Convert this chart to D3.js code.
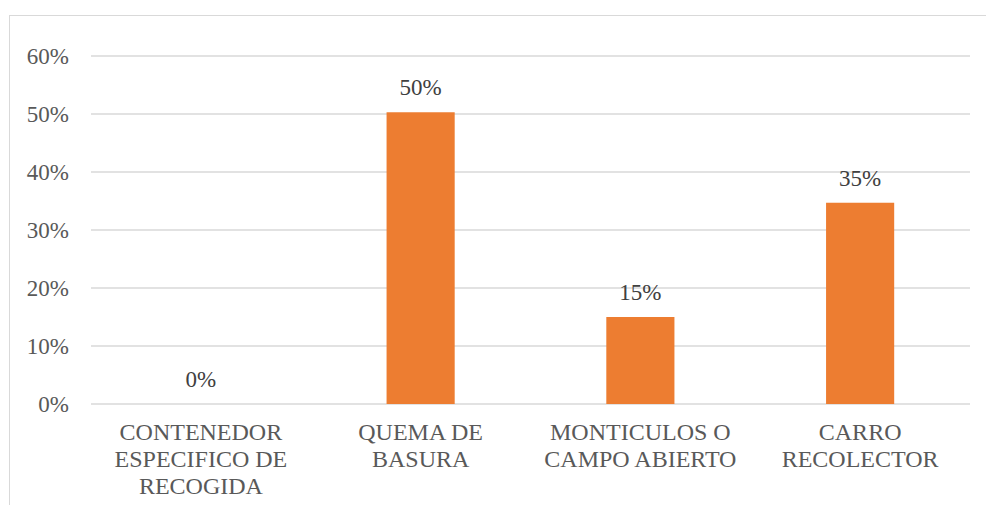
<!DOCTYPE html>
<html>
<head>
<meta charset="utf-8">
<script src="https://cdn.jsdelivr.net/npm/d3@7"></script>
<style>
  html, body { margin: 0; padding: 0; background: #fff; }
  svg { display: block; }
  svg text { font-family: "Liberation Serif", "Times New Roman", serif; }
</style>
</head>
<body>
<div id="chart"></div>
<script>
// chart data
const categories = [
  ["CONTENEDOR", "ESPECIFICO DE", "RECOGIDA"],
  ["QUEMA DE", "BASURA"],
  ["MONTICULOS O", "CAMPO ABIERTO"],
  ["CARRO", "RECOLECTOR"]
];
const values = [0, 0.503, 0.15, 0.347];
const yTicks = [0, 0.1, 0.2, 0.3, 0.4, 0.5, 0.6];

const WIDTH = 986, HEIGHT = 505;
const TEXT_COLOR = "#595959";

let svg = d3.select("#chart")
  .append("svg")
  .attr("width", WIDTH)
  .attr("height", HEIGHT);

// chart frame
svg.append("rect")
  .attr("x", 9.5).attr("y", 15.5)
  .attr("width", 1000).attr("height", 520)
  .attr("fill", "#fff")
  .attr("stroke", "#d9d9d9")
  .attr("stroke-width", 1);

let x = d3.scaleBand()
  .domain(d3.range(categories.length))
  .range([91, 970])
  .paddingInner(0.69)
  .paddingOuter(0.345);

let y = d3.scaleLinear()
  .domain([0, 0.6])
  .range([404, 56]);

let pct = d3.format(".0%");

// gridlines
svg.append("g")
  .selectAll("line")
  .data(yTicks)
  .join("line")
  .attr("x1", 91).attr("x2", 970)
  .attr("y1", d => y(d)).attr("y2", d => y(d))
  .attr("stroke", "#d9d9d9")
  .attr("stroke-width", 1.5);

// y tick labels
svg.append("g")
  .selectAll("text")
  .data(yTicks)
  .join("text")
  .attr("x", 69)
  .attr("y", d => y(d) + 8)
  .attr("text-anchor", "end")
  .attr("font-size", 23)
  .attr("fill", TEXT_COLOR)
  .text(d => pct(d));

// bars
svg.append("g")
  .selectAll("rect")
  .data(values)
  .join("rect")
  .attr("x", (d, i) => x(i))
  .attr("y", d => y(d))
  .attr("width", x.bandwidth())
  .attr("height", d => y(0) - y(d))
  .attr("fill", "#ed7d31");

// data labels
svg.append("g")
  .selectAll("text")
  .data(values)
  .join("text")
  .attr("x", (d, i) => x(i) + x.bandwidth() / 2)
  .attr("y", d => y(d) - 17)
  .attr("text-anchor", "middle")
  .attr("font-size", 23)
  .attr("fill", "#404040")
  .text(d => pct(d));

// category labels
let catLabels = svg.append("g")
  .selectAll("text")
  .data(categories)
  .join("text")
  .attr("text-anchor", "middle")
  .attr("font-size", 24)
  .attr("fill", TEXT_COLOR);

catLabels.selectAll("tspan")
  .data((d, i) => d.map(line => ({ line: line, i: i })))
  .join("tspan")
  .attr("x", d => x(d.i) + x.bandwidth() / 2)
  .attr("y", (d, j) => 440 + j * 27)
  .text(d => d.line);
</script>
</body>
</html>
